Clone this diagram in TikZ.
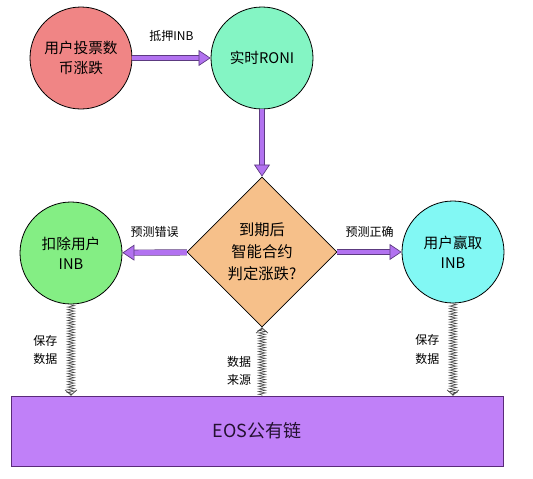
\documentclass[tikz,border=0pt]{standalone}
\usepackage{fontspec}
\usepackage{xcolor}
\usetikzlibrary{shapes.geometric,arrows.meta,positioning,calc,decorations.pathmorphing,decorations.markings}
\newfontfamily\cjk{Noto Sans CJK SC}
\definecolor{VoteRed}{HTML}{F08585}
\definecolor{RoniGreen}{HTML}{84F5C4}
\definecolor{LoseGreen}{HTML}{84EE84}
\definecolor{WinCyan}{HTML}{82F8F4}
\definecolor{JudgeOrange}{HTML}{F6C08A}
\definecolor{ChainPurple}{HTML}{C080F8}
\definecolor{ChainEdge}{HTML}{5A2A7A}
\definecolor{FlowPurple}{HTML}{B272F0}
\definecolor{FlowEdge}{HTML}{5C3A80}
\tikzset{
    % Base node style
    basenode/.style={
        draw=black,
        line width=0.6pt,
        align=center,
        inner sep=0pt,
        font=\cjk\fontsize{11}{15}\selectfont
    },
    % Round state
    statenode/.style={
        basenode,
        circle,
        minimum size=76.5pt
    },
    % Decision
    judgenode/.style={
        basenode,
        diamond,
        aspect=1,
        minimum width=112.5pt,
        minimum height=112.5pt,
        font=\cjk\fontsize{11.5}{16.5}\selectfont
    },
    % Chain box
    chainnode/.style={
        basenode,
        rectangle,
        draw=ChainEdge,
        fill=ChainPurple,
        text=ChainEdge!40!black,
        minimum width=369pt,
        minimum height=52.5pt,
        font=\cjk\fontsize{13.5}{16}\selectfont
    },
    % Small label
    flowlabel/.style={
        font=\cjk\fontsize{9}{14}\selectfont,
        align=center,
        inner sep=0pt
    },
    % Thick purple arrow
    flowarrow/.style={
        -{Triangle[length=9pt,width=12pt,fill=FlowPurple]},
        draw=FlowEdge,
        double=FlowPurple,
        double distance=3.6pt,
        line width=0.5pt
    },
    % Hatched data arrow
    hatcharrow/.style={
        draw=none,
        postaction={draw, black!75, line width=0.4pt, decorate,
            decoration={zigzag, segment length=2pt, amplitude=2.7pt,
                pre length=0.5pt, post length=1pt}},
        postaction={decorate, decoration={markings,
            mark=at position 1 with {\arrow[black!80, line width=0.5pt]{Straight Barb[length=4pt,width=9pt]}}}}
    }
}
\begin{document}
\begin{tikzpicture}[x=0.75pt, y=-0.75pt]
        \useasboundingbox (0,0) rectangle (533,479);
        % States
        \node[statenode, fill=VoteRed] (vote) at (81,58) {用户投票数\\币涨跌};
        \node[statenode, fill=RoniGreen] (roni) at (262,58) {实时RONI};
        \node[judgenode, fill=JudgeOrange] (judge) at (262,252) {到期后\\智能合约\\判定涨跌?};
        \node[statenode, fill=LoseGreen] (lose) at (71,253) {扣除用户\\INB};
        \node[statenode, fill=WinCyan] (win) at (453,252) {用户赢取\\INB};

        % Chain
        \node[chainnode] (eos) at (257,431) {EOS公有链};

        % Flow arrows
        \draw[flowarrow] (vote) -- node[flowlabel, above=12pt]{抵押INB} (roni);
        \draw[flowarrow] (roni) -- (judge);
        \draw[flowarrow] (judge) -- node[flowlabel, above=11pt]{预测错误} (lose);
        \draw[flowarrow] (judge) -- node[flowlabel, above=11pt]{预测正确} (win);

        % Data arrows
        \draw[hatcharrow] (lose.south) -- node[flowlabel, left=10pt]{保存\\数据} (lose.south |- eos.north);
        \draw[hatcharrow] (judge.south |- eos.north) -- node[flowlabel, left=8pt, yshift=-7pt]{数据\\来源} (judge.south);
        \draw[hatcharrow] (win.south) -- node[flowlabel, left=10pt]{保存\\数据} (win.south |- eos.north);
    \end{tikzpicture}
\end{document}
